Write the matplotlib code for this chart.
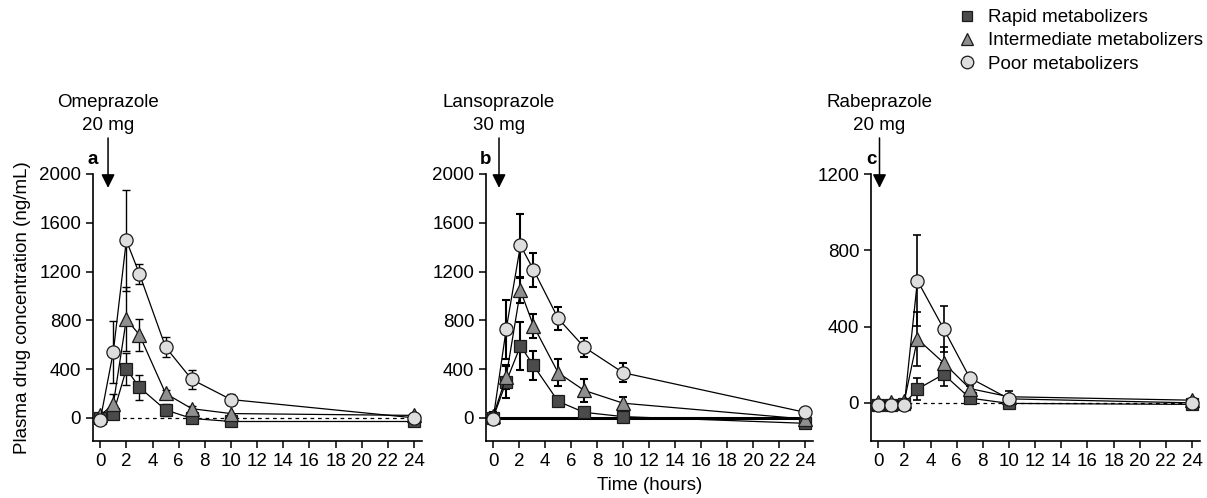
import matplotlib
matplotlib.use("Agg")
import matplotlib.pyplot as plt
from matplotlib.lines import Line2D

plt.rcParams['font.family'] = ['Liberation Sans', 'DejaVu Sans']
plt.rcParams['font.size'] = 13.5

# sampling times (hours)
times = [0, 1, 2, 3, 5, 7, 10, 24]
times_b = [0, 1, 2.1, 3.1, 5, 7, 10, 24]
xticks = list(range(0, 25, 2))

# a: omeprazole 20 mg
ome_rapid = [0, 35, 400, 250, 65, -5, -30, -30]
ome_rapid_sd = [0, 30, 130, 105, 50, 0, 0, 0]
ome_inter = [20, 110, 810, 680, 200, 75, 35, 20]
ome_inter_sd = [0, 85, 260, 130, 30, 20, 0, 0]
ome_poor = [-20, 540, 1455, 1180, 580, 315, 150, 0]
ome_poor_sd = [0, 255, 415, 85, 80, 75, 45, 0]

# b: lansoprazole 30 mg
lan_rapid = [0, 295, 590, 430, 135, 45, 10, -45]
lan_rapid_sd = [0, 130, 200, 120, 20, 10, 0, 0]
lan_inter = [15, 335, 1045, 755, 370, 225, 120, -10]
lan_inter_sd = [30, 100, 100, 100, 110, 93, 50, 0]
lan_poor = [-10, 725, 1415, 1215, 815, 580, 370, 45]
lan_poor_sd = [40, 240, 260, 140, 95, 77, 80, 0]

# c: rabeprazole 20 mg
rab_rapid = [-12, -12, -5, 72, 150, 25, -3, -8]
rab_rapid_sd = [0, 0, 0, 58, 60, 10, 0, 0]
rab_inter = [5, 5, 10, 335, 210, 75, 32, 14]
rab_inter_sd = [0, 0, 0, 140, 85, 15, 30, 0]
rab_poor = [-9, -9, -9, 641, 389, 131, 21, 0]
rab_poor_sd = [0, 0, 0, 237, 120, 0, 0, 0]

labels = ["Rapid metabolizers", "Intermediate metabolizers", "Poor metabolizers"]
markers = ["s", "^", "o"]
msizes = [8, 9.5, 9.5]
fills = ["#4b4b4b", "#8f8f8f", "#dedede"]
edge = "#1a1a1a"

panels = [
    dict(letter="a", drug="Omeprazole", dose="20 mg", t=times,
         series=[(ome_rapid, ome_rapid_sd), (ome_inter, ome_inter_sd), (ome_poor, ome_poor_sd)],
         ylim=(-190, 2000), yticks=[0, 400, 800, 1200, 1600, 2000], arrow_x=0.6, dashed=True,
         elw=1.0, pos=[93, 422]),
    dict(letter="b", drug="Lansoprazole", dose="30 mg", t=times_b,
         series=[(lan_rapid, lan_rapid_sd), (lan_inter, lan_inter_sd), (lan_poor, lan_poor_sd)],
         ylim=(-190, 2000), yticks=[0, 400, 800, 1200, 1600, 2000], arrow_x=0.45, dashed=False,
         elw=1.5, pos=[486, 813]),
    dict(letter="c", drug="Rabeprazole", dose="20 mg", t=times,
         series=[(rab_rapid, rab_rapid_sd), (rab_inter, rab_inter_sd), (rab_poor, rab_poor_sd)],
         ylim=(-200, 1200), yticks=[0, 400, 800, 1200], arrow_x=0.1, dashed=True,
         elw=1.2, pos=[871, 1200]),
]

W, H = 1207, 498
fig = plt.figure(figsize=(W / 100, H / 100), dpi=100)
top_px, bot_px = 174, 441

axes = []
for p in panels:
    l, r = p["pos"]
    ax = fig.add_axes([l / W, 1 - bot_px / H, (r - l) / W, (bot_px - top_px) / H])
    axes.append(ax)
    ax.set_xlim(-0.55, 24.6)
    ax.set_ylim(*p["ylim"])
    ax.set_xticks(xticks)
    ax.set_yticks(p["yticks"])
    for s in ["top", "right"]:
        ax.spines[s].set_visible(False)
    for s in ["left", "bottom"]:
        ax.spines[s].set_linewidth(1.2)
    ax.tick_params(direction="out", length=5, width=1.1, pad=3.5, labelsize=13.5)

    if p["dashed"]:
        ax.plot([0, 24], [0, 0], ls=(0, (3, 3)), color="black", lw=0.9, zorder=1)
    else:
        ax.plot([-0.55, 24.3], [0, 0], color="black", lw=2.2, zorder=1)

    for i, (vals, sd) in enumerate(p["series"]):
        ax.errorbar(p["t"], vals, yerr=sd, fmt="none", ecolor="black",
                    elinewidth=p["elw"], capsize=3, capthick=p["elw"], zorder=2 + i)
        ax.plot(p["t"], vals, color="black", lw=0.9, marker=markers[i],
                ms=msizes[i], mfc=fills[i], mec=edge, mew=0.9, zorder=5 + i,
                clip_on=False)

    tr = ax.get_xaxis_transform()
    ax.annotate("", xy=(p["arrow_x"], 0.948), xytext=(p["arrow_x"], 1.135),
                xycoords=tr, textcoords=tr,
                arrowprops=dict(arrowstyle="-|>,head_length=0.6,head_width=0.3",
                                color="black", lw=1.1, shrinkA=0, shrinkB=0),
                annotation_clip=False)
    ax.text(p["arrow_x"], 1.266, p["drug"], transform=tr, ha="center", va="center")
    ax.text(p["arrow_x"], 1.183, p["dose"], transform=tr, ha="center", va="center")
    ax.text(0, 1.055, p["letter"], transform=ax.transAxes, ha="center", va="center",
            fontweight="bold")

axes[0].set_ylabel("Plasma drug concentration (ng/mL)", labelpad=6)
axes[1].set_xlabel("Time (hours)", labelpad=5)

handles = [Line2D([], [], ls="none", marker=markers[i], ms=msizes[i] * 0.95,
                  mfc=fills[i], mec=edge, mew=0.9) for i in range(3)]
fig.legend(handles, labels, loc="upper left", bbox_to_anchor=(958 / W, 1 - 9 / H),
           frameon=False, handlelength=1.0, handletextpad=0.6, labelspacing=0.33,
           borderpad=0, borderaxespad=0)

fig.savefig("out.png", dpi=100)
